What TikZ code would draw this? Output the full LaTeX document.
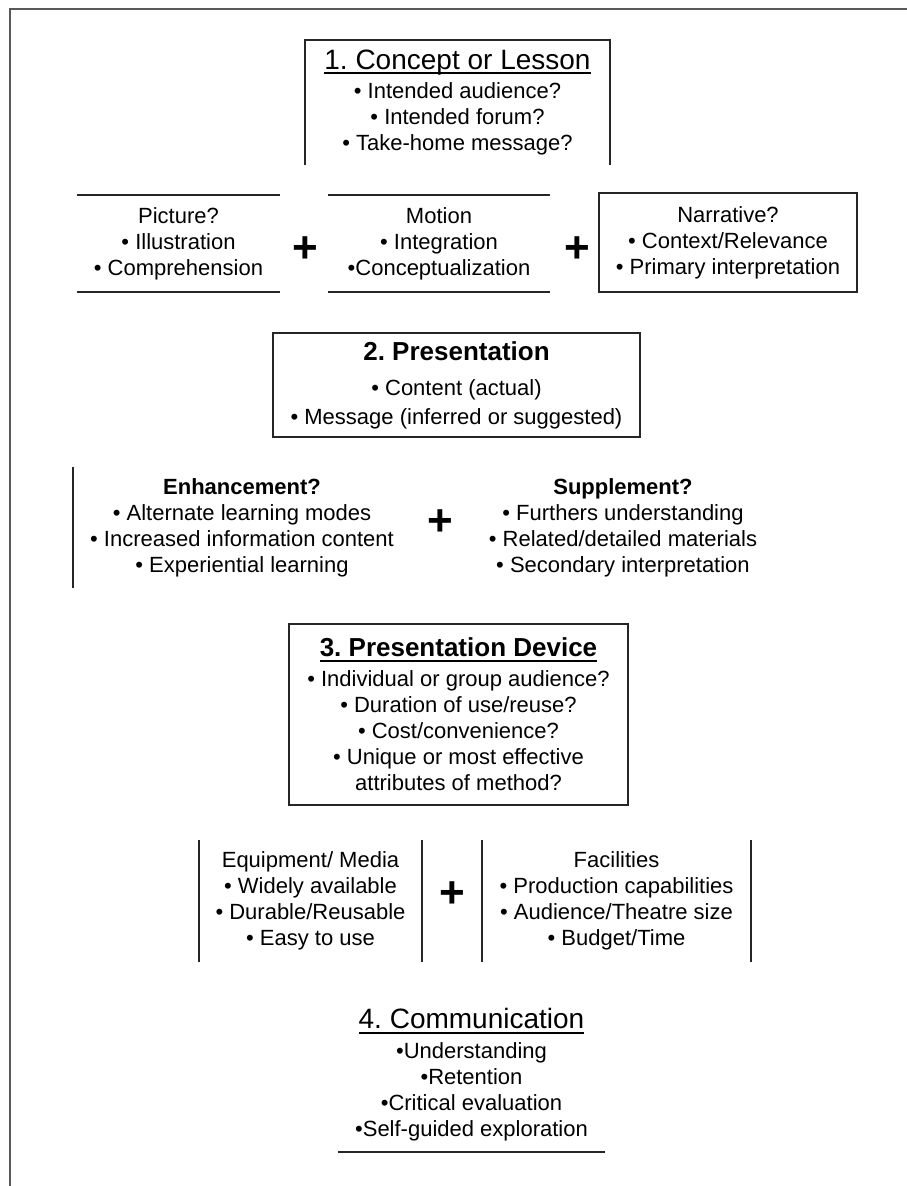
\documentclass[tikz,border=0pt]{standalone}
\usepackage{fontspec}
\setmainfont{Liberation Sans}
\frenchspacing
\newcommand{\thickul}[1]{\leavevmode\setbox0\hbox{#1}\rlap{\rule[-5pt]{\wd0}{2.2pt}}\box0}
\tikzset{
  stage/.style={align=center,inner sep=0pt,font=\fontsize{22}{26}\selectfont},
  plusnode/.style={inner sep=0pt,font=\fontsize{44}{44}\selectfont\bfseries},
  boxline/.style={line width=2pt,draw=black!85},
  frameline/.style={line width=1.5pt,draw=black!65},
}

\begin{document}
\begin{tikzpicture}[x=1pt,y=-1pt]
  \useasboundingbox (0,0) rectangle (907,1186);
  \draw[frameline] (907,9) -- (10,9) -- (10,1186);
  \node[stage,minimum width=305pt,minimum height=125pt] (concept) at (457.5,102.5)
    {{\fontsize{28}{30}\selectfont\thickul{1. Concept or Lesson}}\\[3pt]
     • Intended audience?\\ • Intended forum?\\ • Take-home message?};
  \node[stage,minimum width=203pt,minimum height=97pt] (picture) at (178.5,243.5)
    {Picture?\\ • Illustration\\ • Comprehension};
  \node[stage,minimum width=222pt,minimum height=97pt] (motion) at (439,243.5)
    {Motion\\ • Integration\\ •Conceptualization};
  \node[stage,minimum width=258pt,minimum height=99pt] (narrative) at (728,242.5)
    {Narrative?\\ • Context/Relevance\\ • Primary interpretation};
  \node[plusnode] (plusA) at (305,250) {+};
  \node[plusnode] (plusB) at (577,250) {+};
  \node[stage,minimum width=367pt,minimum height=104pt,font=\fontsize{22}{29}\selectfont] (present) at (456.5,385)
    {{\fontsize{26}{30}\selectfont\bfseries 2. Presentation}\\[6pt]
     • Content (actual)\\ • Message (inferred or suggested)};
  \node[stage,minimum width=338pt,minimum height=121pt] (enhance) at (242,527.5)
    {\textbf{Enhancement?}\\ • Alternate learning modes\\ • Increased information content\\ • Experiential learning};
  \node[plusnode] (plusC) at (440,523) {+};
  \node[stage] (supplement) at (623,528)
    {\textbf{Supplement?}\\ • Furthers understanding\\ • Related/detailed materials\\ • Secondary interpretation};
  \node[stage,minimum width=339pt,minimum height=181pt] (device) at (458.5,714.5)
    {{\fontsize{26}{30}\selectfont\bfseries\thickul{3. Presentation Device}}\\[4pt]
     • Individual or group audience?\\ • Duration of use/reuse?\\ • Cost/convenience?\\
     • Unique or most effective\\ attributes of method?};
  \node[stage,minimum width=223pt,minimum height=122pt] (equipment) at (310.5,901)
    {Equipment/ Media\\ • Widely available\\ • Durable/Reusable\\ • Easy to use};
  \node[plusnode] (plusD) at (452,895) {+};
  \node[stage,minimum width=269pt,minimum height=122pt] (facilities) at (616.5,901)
    {Facilities\\ • Production capabilities\\ • Audience/Theatre size\\ • Budget/Time};
  \node[stage,minimum width=267pt,minimum height=154pt] (communic) at (471.5,1075)
    {{\fontsize{28}{30}\selectfont\thickul{4. Communication}}\\[4pt]
     •Understanding\\ •Retention\\ •Critical evaluation\\ •Self-guided exploration};
  \draw[boxline] (concept.south west) -- (concept.north west) -- (concept.north east) -- (concept.south east);
  \draw[boxline] (picture.north west) -- (picture.north east);
  \draw[boxline] (picture.south west) -- (picture.south east);
  \draw[boxline] (motion.north west) -- (motion.north east);
  \draw[boxline] (motion.south west) -- (motion.south east);
  \draw[boxline] (narrative.north west) rectangle (narrative.south east);
  \draw[boxline] (present.north west) rectangle (present.south east);
  \draw[boxline] (enhance.north west) -- (enhance.south west);
  \draw[boxline] (device.north west) rectangle (device.south east);
  \draw[boxline] (equipment.north west) -- (equipment.south west);
  \draw[boxline] (equipment.north east) -- (equipment.south east);
  \draw[boxline] (facilities.north west) -- (facilities.south west);
  \draw[boxline] (facilities.north east) -- (facilities.south east);
  \draw[boxline] (communic.south west) -- (communic.south east);
\end{tikzpicture}
\end{document}
